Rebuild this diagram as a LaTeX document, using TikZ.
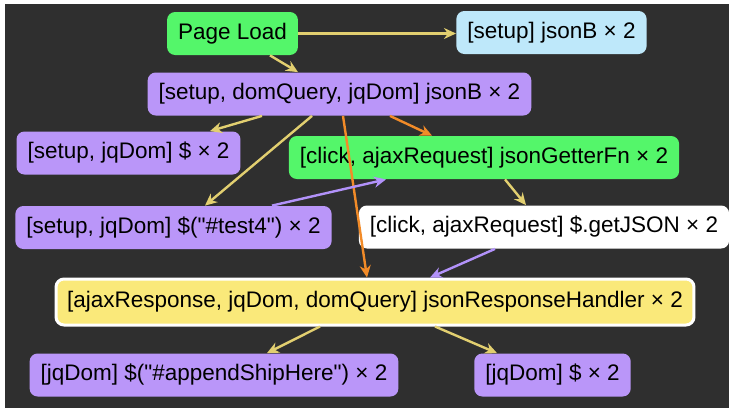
\documentclass[tikz,border=0pt]{standalone}
\usepackage{fontspec}
\setmainfont{Liberation Sans}[Ligatures=TeXOff]
\usetikzlibrary{arrows.meta,positioning}
\definecolor{bgdark}{RGB}{47,47,47}
\definecolor{evgreen}{RGB}{84,246,106}
\definecolor{jqpurple}{RGB}{186,150,249}
\definecolor{setupblue}{RGB}{190,232,250}
\definecolor{handleryellow}{RGB}{250,233,122}
\definecolor{edgeyellow}{RGB}{226,207,112}
\definecolor{edgeorange}{RGB}{242,139,40}
\definecolor{edgepurple}{RGB}{178,146,250}
\tikzset{
  basebox/.style={
    rectangle,
    rounded corners=4pt,
    inner xsep=5.5pt,
    minimum height=21.5pt,
    text=black,
    font=\fontsize{11.25}{13}\selectfont
  },
  evbox/.style={basebox,fill=evgreen},
  jqbox/.style={basebox,fill=jqpurple},
  setupbox/.style={basebox,fill=setupblue},
  callbox/.style={basebox,fill=white},
  handlerbox/.style={basebox,fill=handleryellow,draw=white,line width=1.5pt,minimum height=23pt}
}
\tikzset{
  flow/.style={line width=1.2pt,-{Stealth[length=6pt,width=5.5pt]}},
  yedge/.style={flow,draw=edgeyellow,fill=edgeyellow},
  oedge/.style={flow,draw=edgeorange,fill=edgeorange},
  pedge/.style={flow,draw=edgepurple,fill=edgepurple}
}

\begin{document}
\begin{tikzpicture}[x=0.5pt,y=-0.5pt]
\fill[white] (0,0) rectangle (730,408);
\fill[bgdark] (5,4) rectangle (729,408);

\node[evbox] (load) at (232.5,33.5) {Page Load};
\node[setupbox] (jsonb) at (551.5,32.5) {[setup] jsonB × 2};
\node[jqbox] (query) at (339.5,94) {[setup, domQuery, jqDom] jsonB × 2};
\node[jqbox] (jq) at (128.5,153) {[setup, jqDom] \$ × 2};
\node[evbox] (getter) at (484,157.5) {[click, ajaxRequest] jsonGetterFn × 2};
\node[jqbox] (test) at (173.5,227.5) {[setup, jqDom] \$("\#test4") × 2};
\node[callbox] (getjson) at (544,227) {[click, ajaxRequest] \$.getJSON × 2};
\node[handlerbox] (handler) at (375,302) {[ajaxResponse, jqDom, domQuery] jsonResponseHandler × 2};
\node[jqbox] (append) at (214,375) {[jqDom] \$("\#appendShipHere") × 2};
\node[jqbox] (dollar) at (552.5,375) {[jqDom] \$ × 2};

\draw[yedge] (load.east) -- (load.east -| jsonb.west);
\draw[yedge] ([xshift=18.75pt]load.south) -- ([xshift=-20.75pt]query.north);
\draw[yedge] ([xshift=-38.75pt]query.south) -- ([xshift=40.75pt]jq.north);
\draw[yedge] ([xshift=-13.75pt]query.south) -- ([xshift=15.75pt]test.north);
\draw[oedge] ([xshift=25.25pt]query.south) -- ([xshift=-26pt]getter.north);
\draw[oedge] ([xshift=1.75pt]query.south) -- ([xshift=-4pt]handler.north);
\draw[pedge] ([xshift=49.25pt]test.north) -- ([xshift=-49pt]getter.south);
\draw[yedge] ([xshift=10.5pt]getter.south) -- ([xshift=-9pt]getjson.north);
\draw[pedge] ([xshift=-24.5pt]getjson.south) -- ([xshift=27.5pt]handler.north);
\draw[yedge] ([xshift=-27.5pt]handler.south) -- ([xshift=26.5pt]append.north);
\draw[yedge] ([xshift=30pt]handler.south) -- ([xshift=-27.75pt]dollar.north);

\end{tikzpicture}
\end{document}
